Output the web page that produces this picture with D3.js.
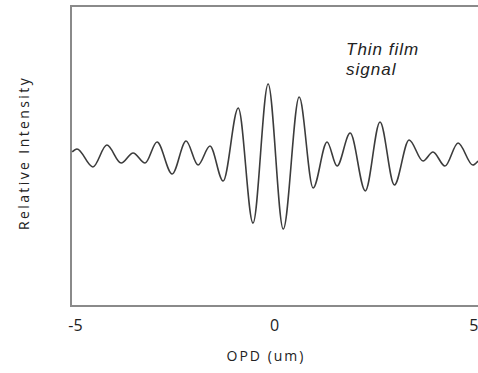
<!DOCTYPE html>
<html>
<head>
<meta charset="utf-8">
<script src="https://d3js.org/d3.v7.min.js"></script>
<style>
  body { margin: 0; background: #fff; }
  text { font-family: "Open Sans", "Liberation Sans", sans-serif; fill: #222; }
  .tick text { font-size: 16px; }
  .axisTitle { font-size: 14px; letter-spacing: 2px; }
  .note { font-family: "Liberation Sans", Arial, sans-serif; font-size: 17px; font-style: italic; letter-spacing: 1px; }
</style>
</head>
<body>
<script>
  // OPD (um) at each turning point of the trace
  const opd = [-5.07, -4.95, -4.55, -4.20, -3.84, -3.54, -3.24, -2.94, -2.56, -2.21,
               -1.91, -1.61, -1.28, -0.90, -0.53, -0.15, 0.23, 0.63, 0.98, 1.33,
               1.58, 1.91, 2.29, 2.66, 3.02, 3.39, 3.74, 3.99, 4.29, 4.62, 4.99, 5.12];
  // relative intensity at those points
  const intensity = [1.027, 1.047, 0.927, 1.073, 0.953, 1.020, 0.953, 1.093, 0.880, 1.100,
                     0.940, 1.067, 0.833, 1.320, 0.553, 1.480, 0.513, 1.393, 0.787, 1.093,
                     0.933, 1.153, 0.767, 1.227, 0.807, 1.107, 0.967, 1.027, 0.933, 1.087, 0.940, 0.967];
  const xTicks = [-5, 0, 5];
  const noteLines = ['Thin film', 'signal'];

  const width = 478, height = 373;
  const margin = { top: 6, right: 0, bottom: 67, left: 71 };

  const svg = d3.select('body').append('svg')
    .attr('width', width)
    .attr('height', height);

  const x = d3.scaleLinear()
    .domain([-5.1, 5.12])
    .range([margin.left, width - margin.right]);

  const y = d3.scaleLinear()
    .domain([0, 2])
    .range([height - margin.bottom, margin.top]);

  // frame (left, top, bottom; right side runs off the image)
  svg.append('path')
    .attr('d', `M${width + 2},${y(2)}H${x(-5.1)}V${y(0)}H${width + 2}`)
    .attr('fill', 'none')
    .attr('stroke', '#8a8a8a')
    .attr('stroke-width', 2);

  const xAxis = d3.axisBottom(x)
    .tickValues(xTicks)
    .tickSize(0)
    .tickPadding(14)
    .tickFormat(d => String(d)); // plain hyphen, like the original

  svg.append('g')
    .attr('class', 'xAxis')
    .attr('transform', `translate(0,${y(0)})`)
    .call(xAxis)
    .call(g => g.select('.domain').remove());

  const pts = opd.map((d, i) => [d, intensity[i]]);

  const line = d3.line()
    .x(d => x(d[0]))
    .y(d => y(d[1]))
    .curve(d3.curveMonotoneX);

  svg.append('path')
    .datum(pts)
    .attr('d', line)
    .attr('fill', 'none')
    .attr('stroke', '#3c3c3c')
    .attr('stroke-width', 1.6);

  svg.append('text')
    .attr('class', 'axisTitle')
    .attr('x', 266)
    .attr('y', 361)
    .style('text-anchor', 'middle')
    .text('OPD (um)');

  svg.append('text')
    .attr('class', 'axisTitle')
    .attr('transform', `translate(29,153) rotate(-90)`)
    .style('text-anchor', 'middle')
    .style('letter-spacing', '2.4px')
    .text('Relative Intensity');

  // annotation, one text per line so the two rows don't collide
  svg.selectAll('text.note')
    .data(noteLines)
    .join('text')
    .attr('class', 'note')
    .attr('x', 346)
    .attr('y', (d, i) => 55 + i * 20)
    .text(d => d);
</script>
</body>
</html>
